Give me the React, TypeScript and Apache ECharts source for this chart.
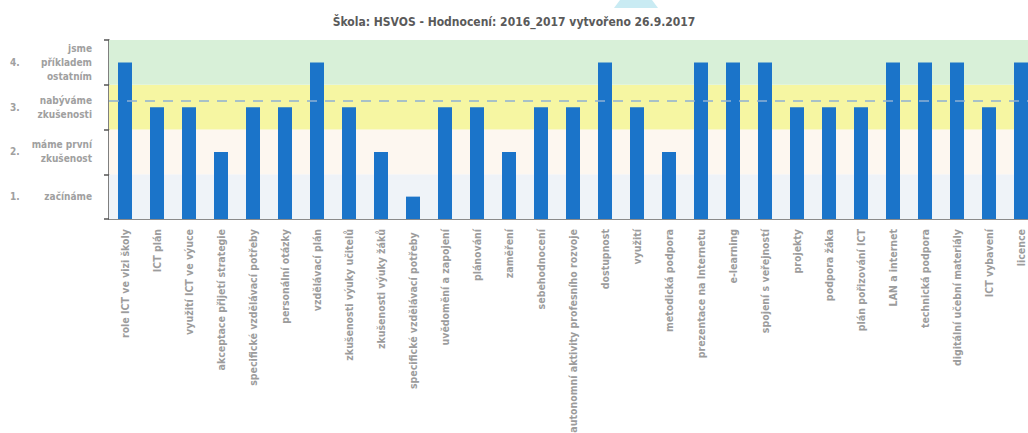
import React, { useEffect, useRef } from "react";
import * as echarts from "echarts";

const titleText = "Škola: HSVOS - Hodnocení: 2016_2017 vytvořeno 26.9.2017";

const categories = [
  "role ICT ve vizi školy",
  "ICT plán",
  "využití ICT ve výuce",
  "akceptace přijetí strategie",
  "specifické vzdělávací potřeby",
  "personální otázky",
  "vzdělávací plán",
  "zkušenosti výuky učitelů",
  "zkušenosti výuky žáků",
  "specifické vzdělávací potřeby ",
  "uvědomění a zapojení",
  "plánování",
  "zaměření",
  "sebehodnocení",
  "autonomní aktivity profesního rozvoje",
  "dostupnost",
  "využití",
  "metodická podpora",
  "prezentace na Internetu",
  "e-learning",
  "spojení s veřejností",
  "projekty",
  "podpora žáka",
  "plán pořizování ICT",
  "LAN a internet",
  "technická podpora",
  "digitální učební materiály",
  "ICT vybavení",
  "licence",
];

const values = [
  3.5, 2.5, 2.5, 1.5, 2.5, 2.5, 3.5, 2.5, 1.5, 0.5, 2.5, 2.5, 1.5, 2.5, 2.5,
  3.5, 2.5, 1.5, 3.5, 3.5, 3.5, 2.5, 2.5, 2.5, 3.5, 3.5, 3.5, 2.5, 3.5,
];

// level labels (placed at the middle of each band)
const levelValues = [0.5, 1.5, 2.5, 3.5];
const levelNumbers = ["1.", "2.", "3.", "4."];
const levelTexts = ["začínáme", "máme první\nzkušenost", "nabýváme\nzkušenosti", "jsme\npříkladem\nostatním"];

// background bands
const bandRanges: [number, number][] = [
  [0, 1],
  [1, 2],
  [2, 3],
  [3, 4],
];
const bandColors = ["#eff3f8", "#fdf7f0", "#f6f6a2", "#d8f0d8"];

const FONT = "'DejaVu Sans Condensed', 'Liberation Sans', sans-serif";

export default function App() {
  const ref = useRef<HTMLDivElement>(null);
  useEffect(() => {
    if (!ref.current) return;
    const chart = echarts.init(ref.current, undefined, { renderer: "svg" });

    const labelAt = (arr: string[]) => (v: number) => {
      const i = levelValues.findIndex((x) => Math.abs(x - v) < 1e-6);
      return i >= 0 ? arr[i] : "";
    };

    chart.setOption({
      animation: false,
      title: {
        text: titleText,
        left: "center",
        top: 11,
        textStyle: { fontFamily: FONT, fontSize: 12, fontWeight: "bold", color: "#5a5a5a" },
      },
      grid: { left: 109, right: -9, top: 40, bottom: 214, outerBoundsMode: "none", containLabel: false },
      xAxis: {
        type: "category",
        data: categories,
        axisLine: { lineStyle: { color: "#8a8a8a", width: 1 } },
        axisTick: { alignWithLabel: true, length: 4, lineStyle: { color: "#8a8a8a" } },
        axisLabel: {
          rotate: 90,
          interval: 0,
          margin: 10,
          color: "#9c9c9c",
          fontFamily: FONT,
          fontSize: 10.5,
          fontWeight: "bold",
        },
      },
      yAxis: [
        {
          type: "value",
          min: 0,
          max: 4,
          interval: 1,
          axisLine: { show: true, lineStyle: { color: "#555", width: 1.5 } },
          axisTick: { show: true, length: 5, lineStyle: { color: "#555", width: 1.5 } },
          axisLabel: { show: false },
          splitLine: { show: false },
        },
        {
          type: "value",
          min: 0,
          max: 4,
          interval: 0.5,
          position: "left",
          axisLine: { show: false },
          axisTick: { show: false },
          splitLine: { show: false },
          axisLabel: {
            margin: 17,
            align: "right",
            color: "#a0a0a0",
            fontFamily: FONT,
            fontSize: 10,
            fontWeight: "bold",
            lineHeight: 14,
            formatter: labelAt(levelTexts),
          },
        },
        {
          type: "value",
          min: 0,
          max: 4,
          interval: 0.5,
          position: "left",
          axisLine: { show: false },
          axisTick: { show: false },
          splitLine: { show: false },
          axisLabel: {
            margin: 99,
            align: "left",
            color: "#a0a0a0",
            fontFamily: FONT,
            fontSize: 10,
            fontWeight: "bold",
            formatter: labelAt(levelNumbers),
          },
        },
      ],
      graphic: [
        {
          type: "polygon",
          shape: { points: [[614, 8], [620, 0], [652, 0], [658, 8]] },
          style: { fill: "#c9ebf3" },
          silent: true,
        },
      ],
      series: [
        {
          type: "bar",
          data: values,
          barWidth: 14,
          itemStyle: { color: "#1b74c9" },
          markArea: {
            silent: true,
            data: bandRanges.map((r, i) => [
              { yAxis: r[0], itemStyle: { color: bandColors[i] } },
              { yAxis: r[1] },
            ]),
          },
          markLine: {
            silent: true,
            symbol: "none",
            label: { show: false },
            lineStyle: { color: "#8eb0d3", type: [10, 8], width: 1.5 },
            data: [{ type: "average" }],
          },
          z: 3,
        },
      ],
    });
    return () => chart.dispose();
  }, []);
  return (
    <div
      ref={ref}
      style={{ position: "absolute", left: 0, top: 0, width: 1028, height: 433, background: "#fff" }}
    />
  );
}
